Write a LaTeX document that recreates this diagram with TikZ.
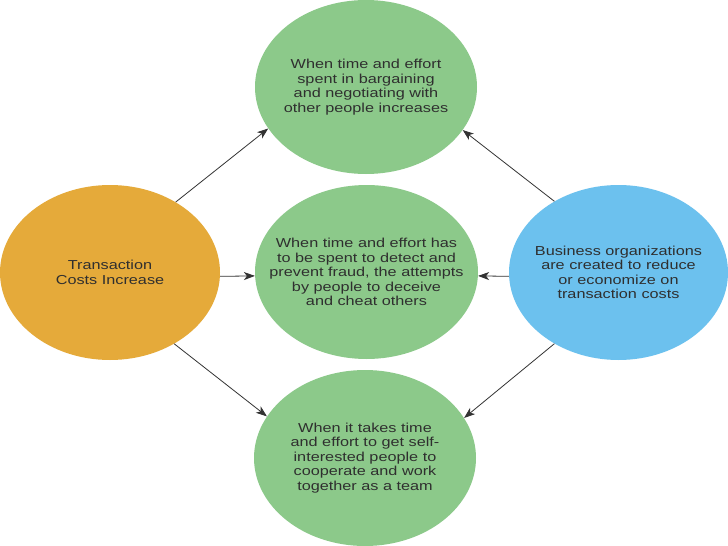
\documentclass[tikz,border=0pt]{standalone}
\usepackage{fontspec}
\setmainfont[FakeStretch=1.25]{Liberation Sans}
\usetikzlibrary{shapes.geometric,arrows.meta}
\definecolor{ellgreen}{HTML}{8CC98A}
\definecolor{ellorange}{HTML}{E5AA3A}
\definecolor{ellblue}{HTML}{6CC1EE}
\definecolor{txtgray}{HTML}{2F2F2F}
\definecolor{arrgray}{HTML}{333333}
\begin{document}
\begin{tikzpicture}[x=1pt,y=-1pt,
  bubble/.style={ellipse, inner xsep=-60pt, inner ysep=-30pt, align=center,
    text=txtgray, font=\fontsize{13}{14.5}\selectfont},
  link/.style={draw=arrgray, line width=0.8pt,
    -{Stealth[length=11pt,width=8pt,inset=3pt]}}]
\fill[white] (0,0) rectangle (728,546);
\useasboundingbox (0,0) rectangle (728,546);
\node[bubble, fill=ellgreen, minimum width=222pt, minimum height=174pt] (top) at (366,87)
  {When time and effort\\spent in bargaining\\and negotiating with\\other people increases};
\node[bubble, fill=ellgreen, minimum width=223pt, minimum height=174pt] (mid) at (366.5,272)
  {When time and effort has\\to be spent to detect and\\prevent fraud, the attempts\\by people to deceive\\and cheat others};
\node[bubble, fill=ellgreen, minimum width=222pt, minimum height=176pt] (bot) at (365,458)
  {When it takes time\\and effort to get self-\\interested people to\\cooperate and work\\together as a team};
\node[bubble, fill=ellorange, minimum width=220pt, minimum height=175pt] (left) at (110,272.5)
  {Transaction\\Costs Increase};
\node[bubble, fill=ellblue, minimum width=219pt, minimum height=175pt] (right) at (618.5,272.5)
  {Business organizations\\are created to reduce\\or economize on\\transaction costs};
\draw[link] (left.47.3) -- (top.203.5);
\draw[link] (left.-2) -- (mid.182);
\draw[link] (left.312.7) -- (bot.157.1);
\draw[link] (right.132) -- (top.336.4);
\draw[link] (right.182) -- (mid.-2);
\draw[link] (right.228.4) -- (bot.22.9);
\end{tikzpicture}
\end{document}
